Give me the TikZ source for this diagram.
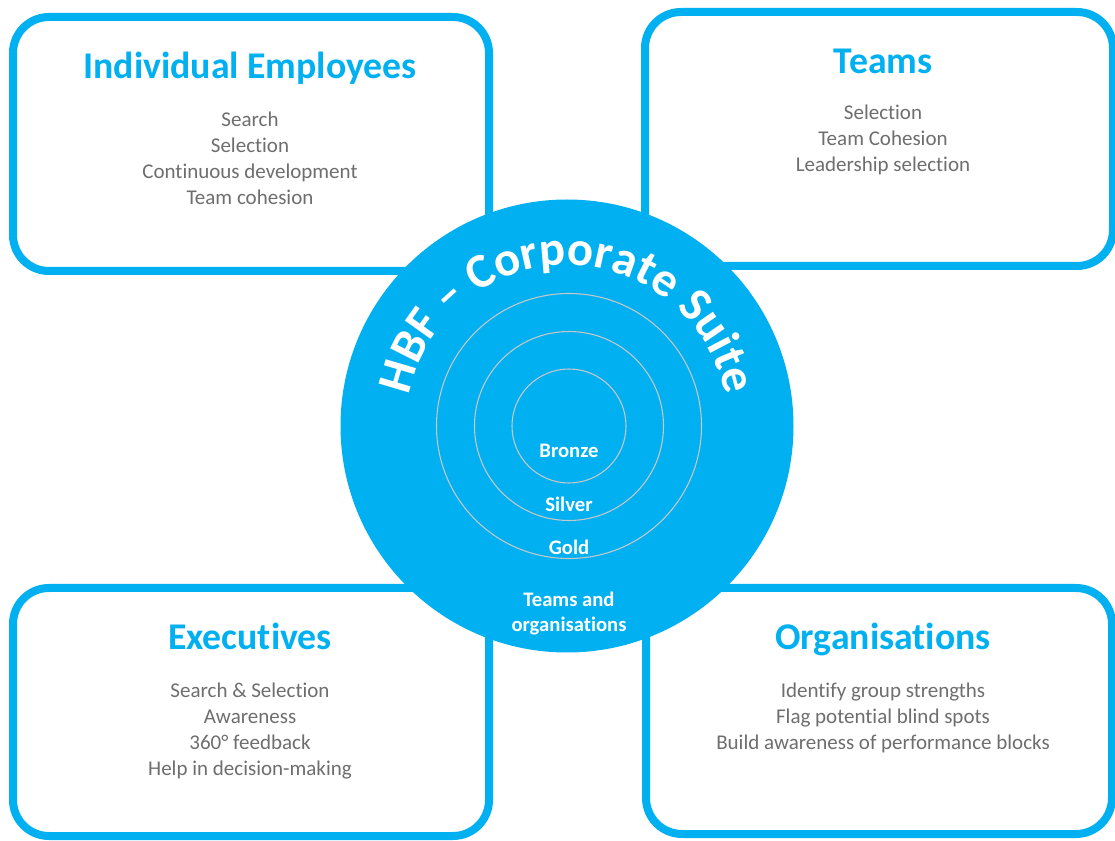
\documentclass[tikz,border=0pt]{standalone}
\usepackage{fontspec}
\setmainfont{Carlito}[Ligatures=NoCommon]
\usetikzlibrary{decorations.text}
\definecolor{hbfblue}{HTML}{00B0F0}
\definecolor{bodygray}{HTML}{6E6E6E}
\definecolor{ringgray}{HTML}{C8C8C8}

\begin{document}
\begin{tikzpicture}[x=0.75pt, y=0.75pt,
  panel/.style={draw=hbfblue, line width=6pt, rounded corners=27pt, fill=white, inner sep=0pt},
  paneltitle/.style={anchor=base, text=hbfblue, font=\fontsize{28.3}{30}\selectfont\bfseries, inner sep=0pt},
  item/.style={anchor=base, text=bodygray, font=\fontsize{15.75}{19}\selectfont, inner sep=0pt},
  hubdisc/.style={circle, fill=hbfblue, inner sep=0pt},
  ring/.style={circle, draw=ringgray, line width=0.8pt, inner sep=0pt},
  tier/.style={anchor=base, text=white, font=\fontsize{15.5}{18}\selectfont\bfseries, inner sep=0pt}]
\useasboundingbox (0,0) rectangle (1115,-841);
\clip (0,0) rectangle (1115,-841);

% four audience panels
\node[panel, minimum width=476*0.75pt, minimum height=254*0.75pt] (ind) at (251,-144) {};
\node[panel, minimum width=468*0.75pt, minimum height=254*0.75pt] (teams) at (879,-139) {};
\node[panel, minimum width=476*0.75pt, minimum height=248*0.75pt] (exec) at (251,-712) {};
\node[panel, minimum width=466*0.75pt, minimum height=246*0.75pt] (org) at (879,-711) {};

% Individual Employees
\node[paneltitle] (indT) at (250,-79) {Individual Employees};
\node[item] (ind1) at (250,-127) {Search};
\node[item] (ind2) at (250,-153) {Selection};
\node[item] (ind3) at (250,-179) {Continuous development};
\node[item] (ind4) at (250,-205) {Team cohesion};

% Teams
\node[paneltitle] (teamsT) at (883,-74) {Teams};
\node[item] (teams1) at (883,-120) {Selection};
\node[item] (teams2) at (883,-146) {Team Cohesion};
\node[item] (teams3) at (883,-172) {Leadership selection};

% Executives
\node[paneltitle] (execT) at (250,-650) {Executives};
\node[item] (exec1) at (250,-697) {Search \& Selection};
\node[item] (exec2) at (250,-723) {Awareness};
\node[item] (exec3) at (250,-749) {360° feedback};
\node[item] (exec4) at (250,-775) {Help in decision-making};

% Organisations
\node[paneltitle] (orgT) at (883,-650) {Organisations};
\node[item] (org1) at (883,-697) {Identify group strengths};
\node[item] (org2) at (883,-723) {Flag potential blind spots};
\node[item] (org3) at (883,-749) {Build awareness of performance blocks};

% central suite disc with its tiers
\node[hubdisc, minimum size=453*0.75pt] (hub) at (567,-426) {};
\node[ring, minimum size=265*0.75pt] (goldring) at (569,-426) {};
\node[ring, minimum size=189*0.75pt] (silverring) at (569,-426) {};
\node[ring, minimum size=114*0.75pt] (bronzering) at (569,-426) {};

\path[decorate, decoration={text along path, text align=center, text color=white,
  text={|\fontsize{36.5}{36.5}\selectfont\bfseries|HBF – Corporate Suite}}]
  (hub.center) ++(200:161) arc[start angle=200, end angle=-20, radius=161];

\node[tier] (bronze) at (569,-458) {Bronze};
\node[tier] (silver) at (569,-512) {Silver};
\node[tier] (gold) at (569,-555) {Gold};
\node[tier] (wider1) at (569,-607) {Teams and};
\node[tier] (wider2) at (569,-632) {organisations};
\end{tikzpicture}
\end{document}
